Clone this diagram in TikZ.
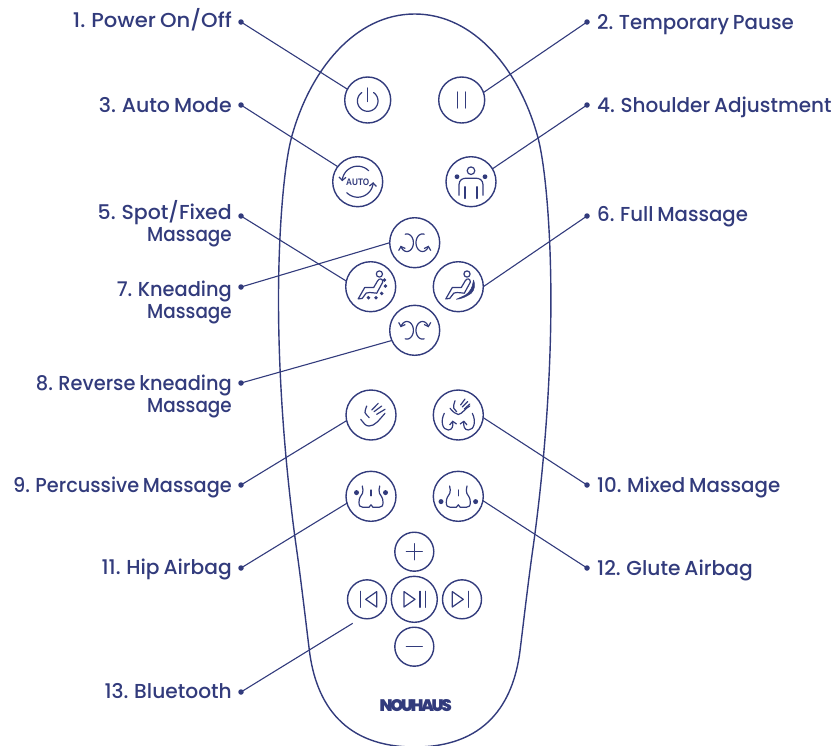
\documentclass[tikz,border=0pt]{standalone}
\usepackage{fontspec}
\usetikzlibrary{arrows.meta}
\newfontfamily\labfont[WordSpace=0.75]{Poppins Medium}
\newfontfamily\logofont[LetterSpace=-14]{Poppins Black}
\newfontfamily\autofont{Liberation Sans}
\definecolor{ink}{HTML}{323B7C}
\tikzset{
  btn/.style={circle,draw=ink,line width=1.4pt,minimum size=50pt,inner sep=0,outer sep=0},
  btnsm/.style={btn,minimum size=39pt},
  btnmd/.style={btn,minimum size=46pt},
  dotn/.style={circle,fill=ink,inner sep=0,minimum size=5.5pt},
  lead/.style={draw=ink,line width=1.1pt},
  ico/.style={draw=ink,line width=1.2pt,line cap=round,line join=round},
  barb/.style={-{Straight Barb[length=3.2pt,width=7pt]}},
  lab/.style={text=ink,font=\labfont\fontsize{20.2}{22}\selectfont,inner sep=0},
  labl/.style={lab,anchor=base east},
  labr/.style={lab,anchor=base west},
  labm/.style={lab,anchor=east,align=right}
}
\newcommand{\fitw}[2]{\scalebox{#1}[1]{#2}}
% elliptical arc, centre (#1,#2), radii #3,#4, from angle #5 to angle #6 (screen-clockwise when rising)
\newcommand{\arcp}[6]{plot[domain=#5:#6,samples=30,smooth,variable=\t] ({#1+#3*cos(\t)},{#2+#4*sin(\t)})}
\newcommand{\chairbody}{
  \draw[ico] (-12.5,12.2) -- (-8.5,11.7) -- (-4.5,6.4) .. controls (-2,5.6) .. (6,6.5) -- (12,-4.5)
     .. controls (12.5,-8) and (8.5,-9) .. (7,-6) -- (3,0.8) .. controls (-1,0) .. (-6,0.8) -- (-12.5,12.2);
  \draw[ico] (8.7,-12.7) circle[radius=3.1];
}
\newcommand{\hipbody}{
  \draw[ico] (-8.7,-10.3) .. controls (-8.7,-7) and (-7,-5.5) .. (-8.5,-3) .. controls (-10,0) and (-12,1) .. (-12,6)
     .. controls (-12,9.5) and (-11,11) .. (-8,11) -- (-2,11) -- (0,8.5) -- (2,11) -- (8,11)
     .. controls (11,11) and (12,9.5) .. (12,6) .. controls (12,1) and (10,0) .. (8.5,-3) .. controls (7,-5.5) and (8.7,-7) .. (8.7,-10.3);
  \draw[ico] (0,-6.3) -- (0,-0.5);
}
\begin{document}
\begin{tikzpicture}[x=1pt,y=-1pt]
\useasboundingbox (0,0) rectangle (835,745);
\begin{scope}
\clip (0,0) rectangle (835,745);
\draw[ink,line width=1.4pt] (414.7,14)
  .. controls (355,14) and (310,70) .. (291.7,136.7)
  .. controls (284,165) and (278.5,230) .. (278.5,300)
  .. controls (278.5,390) and (287,480) .. (296,545)
  .. controls (301,580) and (305,615) .. (309.3,650)
  .. controls (316,705) and (345,747) .. (414.7,747)
  .. controls (484.4,747) and (513.4,705) .. (520.1,650)
  .. controls (524.4,615) and (528.4,580) .. (533.4,545)
  .. controls (542.4,480) and (550.9,390) .. (550.9,300)
  .. controls (550.9,230) and (545.4,165) .. (537.7,136.7)
  .. controls (519.4,70) and (474.4,14) .. (414.7,14) -- cycle;
\end{scope}
% buttons
\node[btnmd] (power) at (367.7,100) {};
\node[btnmd] (pause) at (461.7,100) {};
\node[btn] (auto) at (357.7,181.7) {};
\node[btn] (shoulder) at (471,181.7) {};
\node[btn] (knead) at (414.7,242.7) {};
\node[btn] (spot) at (370.7,286.7) {};
\node[btn] (full) at (458.3,286.7) {};
\node[btn] (rev) at (414.7,330.3) {};
\node[btn] (perc) at (371,415) {};
\node[btn] (mixed) at (458.3,415) {};
\node[btn] (hip) at (371,496.3) {};
\node[btn] (glute) at (458.3,496.3) {};
\node[btnsm] (plus) at (414.3,551.7) {};
\node[btnsm] (prev) at (367,599.3) {};
\node[btnmd] (play) at (414.3,599.3) {};
\node[btnsm] (next) at (462,599.3) {};
\node[btnsm] (minus) at (414.3,646.7) {};
% icons
\begin{scope}[shift={(power.center)}]
  \draw[ico] (0,-12) -- (0,1.5);
  \draw[ico] \arcp{0}{1}{10.3}{10.3}{-55}{235};
\end{scope}
\begin{scope}[shift={(pause.center)}]
  \draw[ico] (-4,-8) -- (-4,8);
  \draw[ico] (4,-8) -- (4,8);
\end{scope}
\begin{scope}[shift={(auto.center)}]
  \draw[ico,barb] \arcp{0}{0}{15.5}{15.5}{-45}{-178};
  \draw[ico,barb] \arcp{0}{0}{15.5}{15.5}{135}{2};
  \node[text=ink,inner sep=0,font=\autofont\bfseries\fontsize{8.6}{9}\selectfont] (autotxt) at (0,0.3) {\scalebox{0.95}[1.1]{AUTO}};
\end{scope}
\begin{scope}[shift={(shoulder.center)}]
  \draw[ico] (0,-11) circle[radius=3.8];
  \fill[ink] (-14,-5) circle[radius=2.4] (14,-5) circle[radius=2.4];
  \draw[ico] (-12,13.5) -- (-12,3) .. controls (-12,-2) and (-8,-3.5) .. (-5,-3.5) -- (5,-3.5) .. controls (8,-3.5) and (12,-2) .. (12,3) -- (12,13.5);
  \draw[ico] (-6,5) -- (-6,16.7);
  \draw[ico] (6,5) -- (6,16.7);
\end{scope}
\begin{scope}[shift={(knead.center)}]
  \draw[ico,barb] \arcp{-7.8}{0}{6.5}{8.8}{-105}{160};
  \draw[ico,barb] \arcp{7.8}{0}{6.5}{8.8}{-75}{-340};
\end{scope}
\begin{scope}[shift={(rev.center)}]
  \draw[ico,barb] \arcp{-7.8}{0}{6.5}{8.8}{105}{-160};
  \draw[ico,barb] \arcp{7.8}{0}{6.5}{8.8}{75}{340};
\end{scope}
\begin{scope}[shift={(spot.center)}]
  \chairbody
  \fill[ink] (13.7,-6.7) circle[radius=1.9] (14.7,-0.7) circle[radius=1.9] (11,6.7) circle[radius=1.9] (5.3,11) circle[radius=1.9] (-2.3,11) circle[radius=1.9];
\end{scope}
\begin{scope}[shift={(full.center)}]
  \chairbody
  \fill[ink,draw=ink,line width=0.5pt,line join=round] (15.3,-6.7) .. controls (17,-2) and (16.5,3) .. (13,6.5) .. controls (8,10) and (3,12.3) .. (-2,12.6) -- (3.7,10) .. controls (8,8.5) and (13,5) .. (14.5,-3.3) -- cycle;
\end{scope}
\begin{scope}[shift={(perc.center)}]
  \draw[ico] (-10.3,4.3) .. controls (-7,8) and (-6,11) .. (-2,11) .. controls (4,11) and (8,5) .. (14,-1.7);
  \draw[ico] (-4.3,-9) .. controls (-4.5,-6) and (-7,-4) .. (-6,-2.3) .. controls (-5,0) and (-3,1) .. (-1.7,2.7);
  \draw[ico] (0.7,-5) -- (7.3,-11.7);
  \draw[ico] (3,-3.3) -- (10.7,-9);
  \draw[ico] (5.7,-0.7) -- (14,-5.7);
\end{scope}
\begin{scope}[shift={(mixed.center)}]
  \draw[ico] (-8.3,-6.7) .. controls (-5,-3) and (-3,-1) .. (0,-0.5) .. controls (4,-1) and (7,-7) .. (11.5,-9);
  \draw[ico] (-3.3,-14.3) .. controls (-3.5,-11) and (-6,-9) .. (-4.5,-6.7) -- (-1.7,-3.3);
  \draw[ico] (2.3,-10) -- (6.7,-16);
  \draw[ico] (4,-8) -- (9.5,-13.5);
  \draw[ico] (6,-6) -- (11.5,-11);
  \draw[ico,barb] (-14,-1.7) .. controls (-18,6) and (-16,15) .. (-10,15) .. controls (-6,15) and (-5,11) .. (-5.7,5.5);
  \draw[ico,barb] (14,-1.7) .. controls (18,6) and (16,15) .. (10,15) .. controls (6,15) and (5,11) .. (5.7,5.5);
\end{scope}
\begin{scope}[shift={(hip.center)}]
  \hipbody
  \fill[ink] (-14.5,-3.7) circle[radius=2.5] (14.5,-3.7) circle[radius=2.5];
\end{scope}
\begin{scope}[shift={(glute.center)}]
  \hipbody
  \fill[ink] (-17.3,5.3) circle[radius=2.5] (17.3,5.3) circle[radius=2.5];
\end{scope}
\begin{scope}[shift={(plus.center)}]
  \draw[ico] (-8,0) -- (8,0);
  \draw[ico] (0,-8) -- (0,8);
\end{scope}
\begin{scope}[shift={(minus.center)}]
  \draw[ico] (-8,0) -- (8,0);
\end{scope}
\begin{scope}[shift={(prev.center)}]
  \draw[ico] (-6.3,-8) -- (-6.3,8);
  \draw[ico] (9.7,-7.7) -- (-1.3,0) -- (9.7,7.7) -- cycle;
\end{scope}
\begin{scope}[shift={(play.center)}]
  \draw[ico] (-10.3,-7.7) -- (0.7,0) -- (-10.3,7.7) -- cycle;
  \draw[ico] (5.7,-8) -- (5.7,8);
  \draw[ico] (11,-8) -- (11,8);
\end{scope}
\begin{scope}[shift={(next.center)}]
  \draw[ico] (-9.7,-7.7) -- (1.3,0) -- (-9.7,7.7) -- cycle;
  \draw[ico] (6.3,-8) -- (6.3,8);
\end{scope}
\node[text=ink,inner sep=0,font=\logofont\fontsize{16.7}{18}\selectfont] (logo) at (415.7,705.7) {NOUHAUS};
% label dots
\node[dotn] (d1) at (241,22) {};
\node[dotn] (d2) at (587,22) {};
\node[dotn] (d3) at (241,105) {};
\node[dotn] (d4) at (587,105) {};
\node[dotn] (d5) at (241,216) {};
\node[dotn] (d6) at (587,216) {};
\node[dotn] (d7) at (241,287) {};
\node[dotn] (d8) at (241,383) {};
\node[dotn] (d9) at (241,485) {};
\node[dotn] (d10) at (587,485) {};
\node[dotn] (d11) at (241,568) {};
\node[dotn] (d12) at (587,568) {};
\node[dotn] (d13) at (241,692) {};
\coordinate (btend) at (352.7,623.3);
% connectors
\draw[lead] (d1.center) -- (power.152);
\draw[lead] (d2.center) -- (pause.19);
\draw[lead] (d3.center) -- (auto.143);
\draw[lead] (d4.center) -- (shoulder.31);
\draw[lead] (d5.center) -- (spot.167);
\draw[lead] (d6.center) -- (full.east);
\draw[lead] (d7.center) -- (knead.west);
\draw[lead] (d8.center) -- (rev.204);
\draw[lead] (d9.center) -- (perc.193);
\draw[lead] (d10.center) -- (mixed.354);
\draw[lead] (d11.center) -- (hip.196);
\draw[lead] (d12.center) -- (glute.350);
\draw[lead] (d13.center) -- (btend);
% labels
\node[labl] (l1) at (232,27) {\fitw{1.046}{1. Power On/Off}};
\node[labr] (l2) at (597,29) {\fitw{0.98}{2. Temporary Pause}};
\node[labl] (l3) at (232,112) {\fitw{1.015}{3. Auto Mode}};
\node[labr] (l4) at (597,112) {\fitw{0.99}{4. Shoulder Adjustment}};
\node[labm] (l5) at (232,224) {\fitw{1.015}{5. Spot/Fixed}\\\fitw{0.91}{Massage}};
\node[labr] (l6) at (597,221) {\fitw{0.975}{6. Full Massage}};
\node[labm] (l7) at (232,302.5) {\fitw{0.96}{7. Kneading}\\\fitw{0.91}{Massage}};
\node[labm] (l8) at (232,396.5) {\fitw{0.96}{8. Reverse kneading}\\\fitw{0.91}{Massage}};
\node[labl] (l9) at (232,492) {\fitw{0.956}{9. Percussive Massage}};
\node[labr] (l10) at (597,492) {\fitw{0.98}{10. Mixed Massage}};
\node[labl] (l11) at (232,574) {11. Hip Airbag};
\node[labr] (l12) at (597,575) {12. Glute Airbag};
\node[labl] (l13) at (232,698) {13. Bluetooth};
\end{tikzpicture}
\end{document}
